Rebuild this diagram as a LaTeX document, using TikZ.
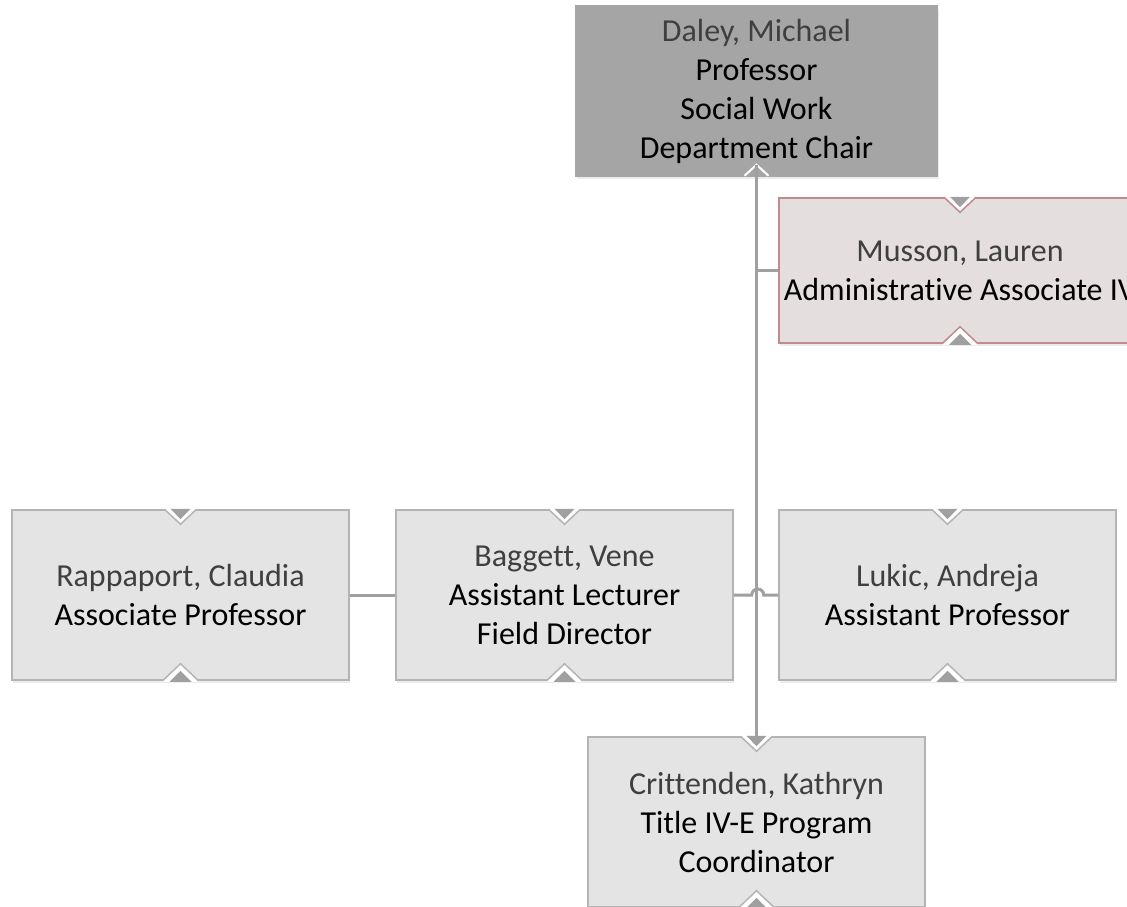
\documentclass[tikz,border=0pt]{standalone}
\usepackage{fontspec}
\setmainfont{Carlito}[Ligatures=NoCommon]
\usetikzlibrary{shadows}
\definecolor{chairfill}{HTML}{A5A5A5}
\definecolor{boxfill}{HTML}{E4E4E4}
\definecolor{boxline}{HTML}{B4B4B4}
\definecolor{adminfill}{HTML}{E5DEDE}
\definecolor{adminline}{HTML}{C08A8F}
\definecolor{notchgray}{HTML}{A0A0A0}
\definecolor{linkgray}{HTML}{A0A0A0}
\definecolor{namegray}{HTML}{3F3F3F}
\tikzset{
	person/.style={rectangle,fill=boxfill,draw=boxline,line width=1.5pt,
		minimum width=337pt,minimum height=170pt,inner sep=0pt,align=center,
		font=\fontsize{32}{39}\selectfont,
		drop shadow={opacity=0.15,shadow xshift=1pt,shadow yshift=-3pt}},
	chair/.style={person,fill=chairfill,draw=chairfill,minimum width=362pt},
	admin/.style={person,fill=adminfill,draw=adminline,minimum width=362pt,minimum height=145pt},
	link/.style={draw=linkgray,line width=3pt}
}
\newcommand{\nm}[1]{\textcolor{namegray}{#1}}
% V notch on top, ^ notch at the bottom of a box
\newcommand{\notches}[2]{%
	\begin{scope}[shift={(#1.north)}]
		\fill[white] (-16,-1)--(16,-1)--(0,15)--cycle;
		\fill[notchgray] (-10,-0.5)--(10,-0.5)--(0,10)--cycle;
		\draw[#2,line width=1.5pt] (-16,0)--(0,15)--(16,0);
	\end{scope}
	\begin{scope}[shift={(#1.south)}]
		\fill[white] (-18,1)--(18,1)--(0,-17)--cycle;
		\fill[notchgray] (-11,1)--(11,1)--(0,-10)--cycle;
		\draw[#2,line width=1.5pt] (-18,0)--(0,-17)--(18,0);
	\end{scope}}
\begin{document}
\begin{tikzpicture}[x=1pt,y=-1pt]
	\useasboundingbox (0,0) rectangle (1127,907);
	\node[chair] (Daley) at (756.5,91) {\nm{Daley, Michael}\\Professor\\Social Work\\Department Chair};
	\node[admin] (Musson) at (960,270.5) {\nm{Musson, Lauren}\\Administrative Associate IV};
	\node[person] (Rappaport) at (180.5,595) {\nm{Rappaport, Claudia}\\Associate Professor};
	\node[person] (Baggett) at (564.5,595) {\nm{Baggett, Vene}\\Assistant Lecturer\\Field Director};
	\node[person] (Lukic) at (947.5,595) {\nm{Lukic, Andreja}\\Assistant Professor};
	\node[person] (Crittenden) at (756.5,822) {\nm{Crittenden, Kathryn}\\Title IV-E Program\\Coordinator};
	\notches{Musson}{adminline}
	\notches{Rappaport}{boxline}
	\notches{Baggett}{boxline}
	\notches{Lukic}{boxline}
	\notches{Crittenden}{boxline}
	\begin{scope}[shift={(Daley.south)}]
		\draw[white,line width=2pt] (-12,-1)--(0,-12)--(12,-1);
	\end{scope}
	\draw[link] (Daley.south) ++(0,-12) -- (Crittenden.north);
	\draw[link] (Daley.south |- Musson.west) -- (Musson.west);
	\draw[link] (Rappaport.east) -- (Baggett.west);
	\draw[link] (Baggett.east) -- ++(18,0) arc[start angle=180,end angle=0,radius=6pt] -- (Lukic.west);
\end{tikzpicture}
\end{document}
